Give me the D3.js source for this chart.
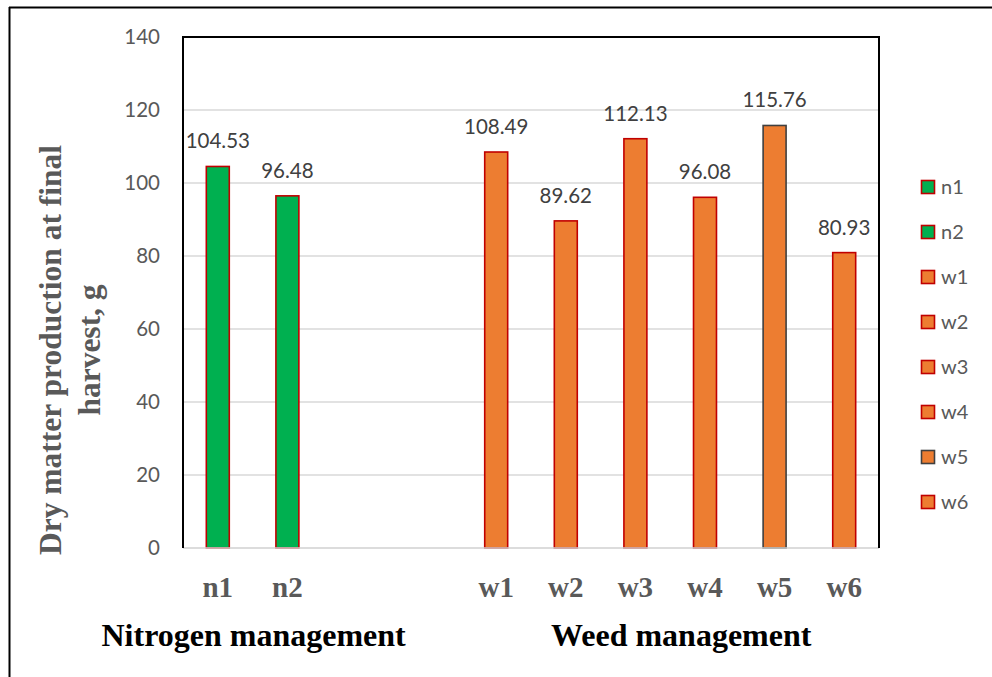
<!DOCTYPE html>
<html>
<head>
<meta charset="utf-8">
<script src="https://cdn.jsdelivr.net/npm/d3@7"></script>
<style>
  html, body { margin: 0; padding: 0; background: #fff; }
  svg { display: block; }
</style>
</head>
<body>
<svg id="chart" width="992" height="677"></svg>
<script>
// ---- data ----
const nitrogenCategories = ["n1", "n2"];
const nitrogenValues = [104.53, 96.48];
const weedCategories = ["w1", "w2", "w3", "w4", "w5", "w6"];
const weedValues = [108.49, 89.62, 112.13, 96.08, 115.76, 80.93];
const gapSlots = ["_gap1", "_gap2"];
const yTicks = [0, 20, 40, 60, 80, 100, 120, 140];
const groupTitles = ["Nitrogen management", "Weed management"];
const yTitleLines = ["Dry matter production at final", "harvest, g"];

// ---- styles ----
const fillColor = { n: "#00B050", w: "#ED7D31" };
const strokeColor = { default: "#C00000", w5: "#404040" };

const bars = nitrogenCategories.map((c, i) => ({ cat: c, value: nitrogenValues[i], group: "n" }))
  .concat(weedCategories.map((c, i) => ({ cat: c, value: weedValues[i], group: "w" })));

const svg = d3.select("#chart");
const plot = { left: 183, right: 879, top: 37, bottom: 548 };

const x = d3.scaleBand()
  .domain([...nitrogenCategories, ...gapSlots, ...weedCategories])
  .range([plot.left, plot.right])
  .paddingInner(0.67)
  .paddingOuter(0.335);

const y = d3.scaleLinear().domain([0, 140]).range([plot.bottom, plot.top]);

// outer frame
svg.append("line").attr("x1", 9).attr("x2", 992).attr("y1", 7.5).attr("y2", 7.5)
  .attr("stroke", "#000").attr("stroke-width", 2);
svg.append("line").attr("x1", 9.5).attr("x2", 9.5).attr("y1", 7).attr("y2", 677)
  .attr("stroke", "#000").attr("stroke-width", 2);

// gridlines
svg.append("g").selectAll("line").data(yTicks.filter(t => t > 0 && t < 140)).join("line")
  .attr("x1", plot.left).attr("x2", plot.right)
  .attr("y1", d => y(d)).attr("y2", d => y(d))
  .attr("stroke", "#D9D9D9").attr("stroke-width", 1.5);

// y tick labels via axis
const yAxis = d3.axisLeft(y).tickValues(yTicks).tickSize(0).tickPadding(23);
const gy = svg.append("g").attr("transform", `translate(${plot.left},0)`).call(yAxis);
gy.select(".domain").remove();
gy.selectAll("text")
  .attr("font-family", "Lato, 'Open Sans', sans-serif")
  .attr("font-size", 20.5)
  .attr("fill", "#595959");

// bars
svg.append("g").selectAll("rect").data(bars).join("rect")
  .attr("x", d => x(d.cat))
  .attr("width", x.bandwidth())
  .attr("y", d => y(d.value))
  .attr("height", d => y(0) - y(d.value))
  .attr("fill", d => fillColor[d.group])
  .attr("stroke", d => strokeColor[d.cat] || strokeColor.default)
  .attr("stroke-width", 1.6);

// bottom axis line
svg.append("line").attr("x1", plot.left).attr("x2", plot.right)
  .attr("y1", y(0)).attr("y2", y(0))
  .attr("stroke", "#D0D0D0").attr("stroke-width", 1.5);

// plot border: top, left, right in black
svg.append("path")
  .attr("d", `M${plot.left},${plot.bottom} V${plot.top} H${plot.right} V${plot.bottom}`)
  .attr("fill", "none").attr("stroke", "#000").attr("stroke-width", 2);

// data labels
svg.append("g").selectAll("text").data(bars).join("text")
  .attr("x", d => x(d.cat) + x.bandwidth() / 2)
  .attr("y", d => y(d.value) - 18)
  .attr("text-anchor", "middle")
  .attr("font-family", "Lato, 'Open Sans', sans-serif")
  .attr("font-size", 20.5)
  .attr("fill", "#404040")
  .text(d => d.value.toFixed(2));

// category labels
const xAxis = d3.axisBottom(x).tickValues([...nitrogenCategories, ...weedCategories]).tickSize(0).tickPadding(0);
const gx = svg.append("g").attr("transform", `translate(0,${plot.bottom})`).call(xAxis);
gx.select(".domain").remove();
gx.selectAll("text")
  .attr("dy", null)
  .attr("y", 49)
  .attr("font-family", "'Liberation Serif', 'Times New Roman', serif")
  .attr("font-weight", "bold")
  .attr("font-size", 29)
  .attr("fill", "#595959");

// group titles
const groupCenters = [
  (x(nitrogenCategories[0]) + x(nitrogenCategories[nitrogenCategories.length - 1]) + x.bandwidth()) / 2 + 1,
  (x(weedCategories[0]) + x(weedCategories[weedCategories.length - 1]) + x.bandwidth()) / 2 + 11
];
svg.append("g").selectAll("text").data(groupTitles).join("text")
  .attr("x", (d, i) => groupCenters[i])
  .attr("y", 646)
  .attr("text-anchor", "middle")
  .attr("font-family", "'Liberation Serif', 'Times New Roman', serif")
  .attr("font-weight", "bold")
  .attr("font-size", 32)
  .attr("fill", "#000")
  .text(d => d);

// y axis title
const yt = svg.append("text")
  .attr("transform", `translate(61,350) rotate(-90)`)
  .attr("text-anchor", "middle")
  .attr("font-family", "'Liberation Serif', 'Times New Roman', serif")
  .attr("font-weight", "bold")
  .attr("font-size", 31.5)
  .attr("fill", "#595959");
yt.selectAll("tspan").data(yTitleLines).join("tspan")
  .attr("x", 0)
  .attr("dy", (d, i) => i === 0 ? 0 : 39)
  .text(d => d);

// legend
const legend = svg.append("g");
const legendItems = legend.selectAll("g").data(bars).join("g")
  .attr("transform", (d, i) => `translate(921,${187 + i * 45})`);
legendItems.append("rect")
  .attr("x", 0.5).attr("y", -6.5).attr("width", 13).attr("height", 13)
  .attr("fill", d => fillColor[d.group])
  .attr("stroke", d => strokeColor[d.cat] || strokeColor.default)
  .attr("stroke-width", 1.6);
legendItems.append("text")
  .attr("x", 20).attr("y", 7)
  .attr("font-family", "Lato, 'Open Sans', sans-serif")
  .attr("font-size", 20)
  .attr("fill", "#595959")
  .text(d => d.cat);
</script>
</body>
</html>
